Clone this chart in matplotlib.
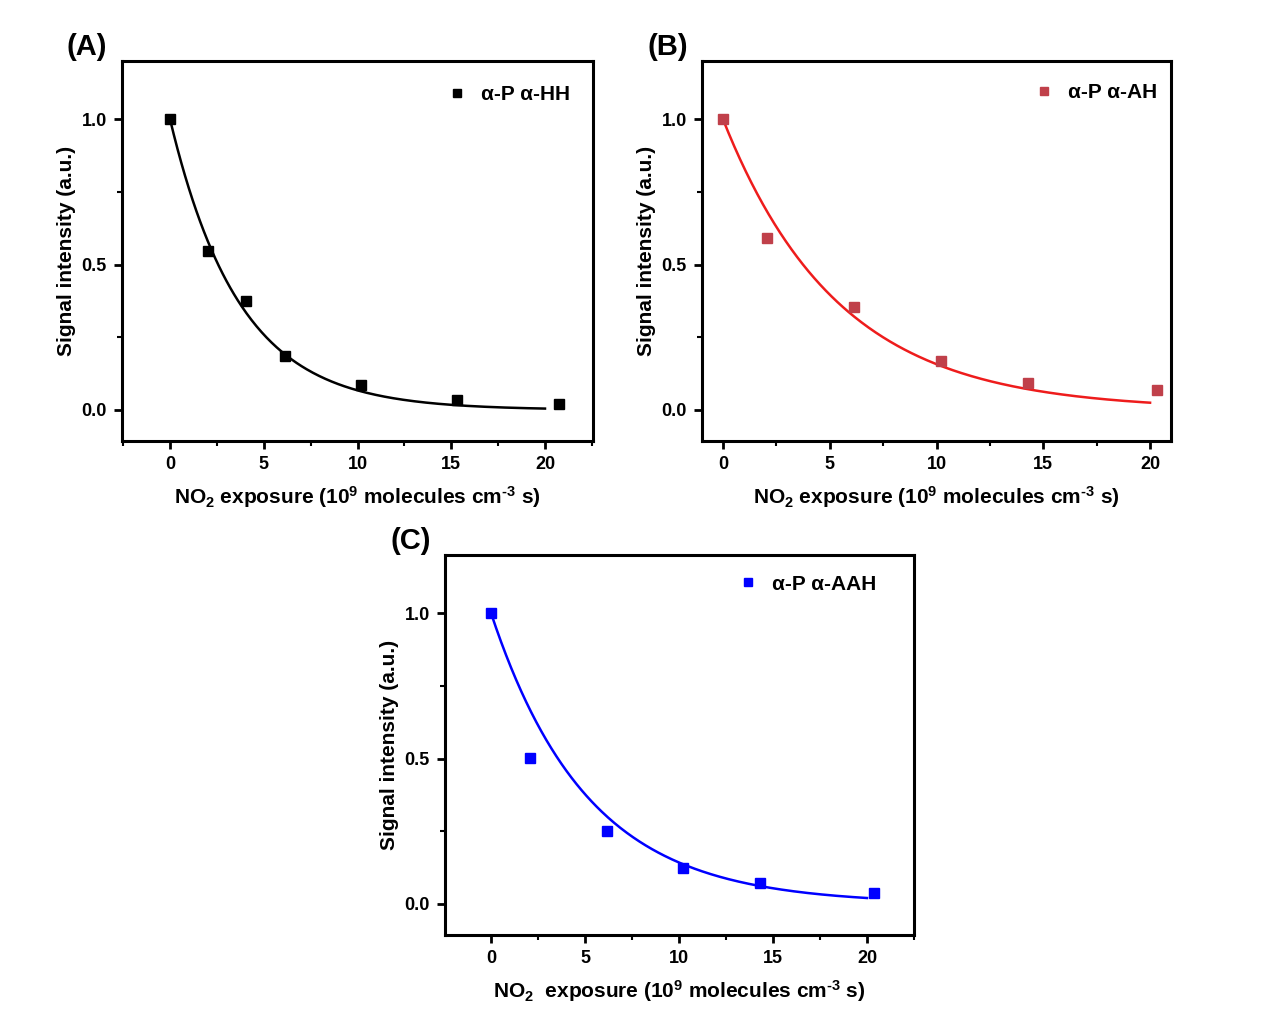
import numpy as np
import matplotlib
matplotlib.use("Agg")
import matplotlib.pyplot as plt
from matplotlib.ticker import MultipleLocator

plt.rcParams['font.family'] = ['Liberation Sans', 'DejaVu Sans']
plt.rcParams['font.weight'] = 'bold'
plt.rcParams['mathtext.fontset'] = 'custom'
plt.rcParams['mathtext.rm'] = 'Liberation Sans:bold'
plt.rcParams['mathtext.bf'] = 'Liberation Sans:bold'
plt.rcParams['mathtext.it'] = 'Liberation Sans:bold'
plt.rcParams['mathtext.default'] = 'bf'

# Data
xA = [0, 2.03, 4.05, 6.13, 10.19, 15.3, 20.75]
yA = [1.0, 0.546, 0.375, 0.186, 0.086, 0.034, 0.02]
xB = [0, 2.06, 6.14, 10.21, 14.29, 20.33]
yB = [1.0, 0.591, 0.354, 0.168, 0.093, 0.069]
xC = [0, 2.07, 6.17, 10.2, 14.3, 20.37]
yC = [1.0, 0.503, 0.252, 0.124, 0.072, 0.038]

# Exponential fit parameters (y = a*exp(-k x))
fitA = (1.0, 0.27)
fitB = (1.0, 0.185)
fitC = (1.0, 0.195)

labels = ['α-P α-HH', 'α-P α-AH', 'α-P α-AAH']
panel_tags = ['(A)', '(B)', '(C)']

W, H = 1268, 1023
fig = plt.figure(figsize=(W / 100, H / 100), dpi=100)

def ax_at(l, t, r, b):
    return fig.add_axes([l / W, 1 - b / H, (r - l) / W, (b - t) / H])

xl1 = r'NO$_2$ exposure (10$^9$ molecules cm$^{\text{-}3}$ s)'
xl2 = r'NO$_2$  exposure (10$^9$ molecules cm$^{\text{-}3}$ s)'

specs = [
    (ax_at(122, 61, 593, 441), xA, yA, fitA, 'black', 'black', (-2.56, 22.56), 0, xl1, (570, 95)),
    (ax_at(702, 61, 1171, 441), xB, yB, fitB, '#C0404A', '#EE1C1C', (-0.98, 20.98), 1, xl1, (1157, 93)),
    (ax_at(445, 555, 914, 935), xC, yC, fitC, '#0000FF', '#0000FF', (-2.45, 22.5), 2, xl2, (876, 584)),
]

for ax, x, y, fit, mc, lc, xlim, i, xlabel, lpos in specs:
    xf = np.linspace(0, 20, 300)
    ax.plot(xf, fit[0] * np.exp(-fit[1] * xf), color=lc, lw=1.8, zorder=2)
    ax.plot(x, y, 's', color=mc, ms=6.5, ls='none', label=labels[i], zorder=3)
    ax.set_xlim(*xlim)
    ax.set_ylim(-0.107, 1.2)
    ax.xaxis.set_major_locator(MultipleLocator(5))
    ax.xaxis.set_minor_locator(MultipleLocator(2.5))
    ax.yaxis.set_minor_locator(MultipleLocator(0.25))
    ax.set_yticks([0, 0.5, 1.0])
    ax.set_yticklabels(['0.0', '0.5', '1.0'])
    ax.tick_params(which='major', direction='out', length=6, width=2, labelsize=13, pad=5)
    ax.tick_params(which='minor', direction='out', length=3.5, width=1.5)
    for lab in ax.get_xticklabels() + ax.get_yticklabels():
        lab.set_fontweight('bold')
    for s in ax.spines.values():
        s.set_linewidth(2.2)
    ax.set_xlabel(xlabel, fontsize=15, fontweight='bold', labelpad=8)
    ax.set_ylabel('Signal intensity (a.u.)', fontsize=15, fontweight='bold', labelpad=4)
    ax.legend(loc='center right', frameon=False, fontsize=15, handlelength=0.8,
              handletextpad=0.75, borderaxespad=0, borderpad=0, markerscale=0.85,
              bbox_to_anchor=(lpos[0] / W, 1 - lpos[1] / H), bbox_transform=fig.transFigure)
    ax.text(-0.117, 1.0, panel_tags[i], transform=ax.transAxes, fontsize=21,
            fontweight='bold', ha='left', va='bottom')

fig.savefig('out.png', dpi=100)
